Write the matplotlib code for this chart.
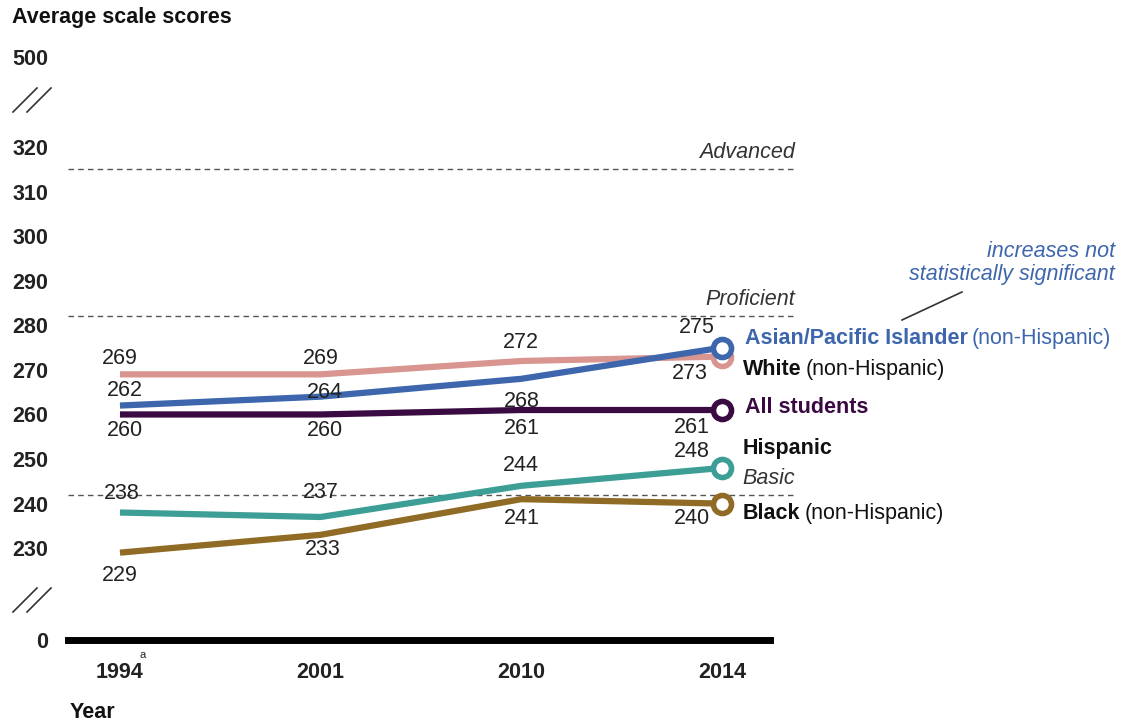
import matplotlib
matplotlib.use('Agg')
import matplotlib.pyplot as plt
from matplotlib.lines import Line2D

plt.rcParams['font.family'] = ['Liberation Sans', 'DejaVu Sans']

years = ['1994', '2001', '2010', '2014']
series_names = ['White', 'Asian/Pacific Islander', 'All students', 'Hispanic', 'Black']
white = [269, 269, 272, 273]
asian = [262, 264, 268, 275]
all_students = [260, 260, 261, 261]
hispanic = [238, 237, 244, 248]
black = [229, 233, 241, 240]
levels = ['Advanced', 'Proficient', 'Basic']
level_scores = [315, 282, 242]
ytick_values = [320, 310, 300, 290, 280, 270, 260, 250, 240, 230]

# axis break: fake positions for 0 and 500
Y0 = 209.4
Y500 = 340.2

W, H = 1126, 727
FS = 15.5
fig = plt.figure(figsize=(W / 100, H / 100), dpi=100)


def px(x, y):
    return x / W, 1 - y / H


ax = fig.add_axes([68 / W, (H - 640) / H, 702 / W, 583 / H])
ax.set_xlim(-0.259, 3.239)
ax.set_ylim(Y0, Y500)

for s in ['top', 'right', 'left']:
    ax.spines[s].set_visible(False)
ax.spines['bottom'].set_linewidth(5)
ax.spines['bottom'].set_color('black')

ax.set_yticks([Y500] + ytick_values + [Y0])
ax.set_yticklabels(['500'] + [str(v) for v in ytick_values] + ['0'],
                   fontsize=FS, fontweight='bold', color='#222222')
ax.tick_params(axis='y', length=0, pad=14)
ax.set_xticks(range(len(years)))
ax.set_xticklabels(years, fontsize=FS, fontweight='bold', color='#222222')
ax.tick_params(axis='x', length=0, pad=16)

# achievement level dashed lines
for name, sc in zip(levels, level_scores):
    ax.plot([-0.259, 3.364], [sc, sc], ls=(0, (4, 3)), color='#555555', lw=1, clip_on=False)
    ax.annotate(name, xy=(3.364, sc), xytext=(0, 6), textcoords='offset pixels',
                ha='right', va='bottom', fontsize=FS, style='italic', color='#333333',
                annotation_clip=False)

colors = ['#d9958f', '#3d66ad', '#3a0b42', '#3d9e96', '#8f6b26']
data = [white, asian, all_students, hispanic, black]
x = list(range(len(years)))

label_offsets = [
    [(0, 16), (0, 16), (0, 18), (-32, -17)],
    [(5, 15), (4, 4), (0, -23), (-25, 20)],
    [(5, -16), (4, -16), (0, -18), (-30, -17)],
    [(2, 19), (0, 24), (0, 20), (-30, 16)],
    [(0, -23), (2, -15), (0, -19), (-30, -15)],
]

for vals, c, offs in zip(data, colors, label_offsets):
    ax.plot(x, vals, color=c, lw=4.5, solid_capstyle='butt', zorder=3)
    ax.plot(x[-1], vals[-1], 'o', ms=13, mfc='white', mec=c, mew=4, zorder=4)
    for xi, v, o in zip(x, vals, offs):
        ax.annotate(str(v), xy=(xi, v), xytext=o, textcoords='offset pixels',
                    ha='center', va='center', fontsize=FS, color='#222222', zorder=5)

# series labels at line ends
name_offsets = [(21, -13), (23, 9), (23, 3), (21, 19), (21, -10)]
name_colors = ['#111111', '#3d66ad', '#3a0b42', '#111111', '#111111']
suffix = ['(non-Hispanic)', '(non-Hispanic)', '', '', '(non-Hispanic)']
fig.canvas.draw()
renderer = fig.canvas.get_renderer()
for vals, nm, o, nc, sf in zip(data, series_names, name_offsets, name_colors, suffix):
    t = ax.annotate(nm, xy=(x[-1], vals[-1]), xytext=o, textcoords='offset pixels',
                    ha='left', va='center', fontsize=FS, fontweight='bold', color=nc,
                    annotation_clip=False)
    if sf:
        bb = t.get_window_extent(renderer)
        fig.text((bb.x1 + 4) / W, (bb.y0 + bb.y1) / 2 / H, sf, ha='left', va='center',
                 fontsize=FS, color=nc)

# titles
fig.text(*px(12, 18), 'Average scale scores', ha='left', va='center',
         fontsize=FS, fontweight='bold', color='#111111')
fig.text(*px(70, 712), 'Year', ha='left', va='center',
         fontsize=FS, fontweight='bold', color='#111111')
fig.text(*px(140, 655), 'a', ha='left', va='center', fontsize=8, color='#222222')

# axis break marks
for yc in [100, 600]:
    for dx in [0, 14]:
        x0, y0 = px(13 + dx, yc + 12)
        x1, y1 = px(37 + dx, yc - 12)
        fig.add_artist(Line2D([x0, x1], [y0, y1], color='#333333', lw=1.2))

# note
fig.text(*px(1115, 263), 'increases not\nstatistically significant', ha='right', va='center',
         multialignment='right', fontsize=FS, style='italic', color='#3d66ad', linespacing=1.1)
a0 = px(902, 320)
a1 = px(962, 292)
fig.add_artist(Line2D([a0[0], a1[0]], [a0[1], a1[1]], color='#333333', lw=1.2))

fig.savefig('out.png', dpi=100)
